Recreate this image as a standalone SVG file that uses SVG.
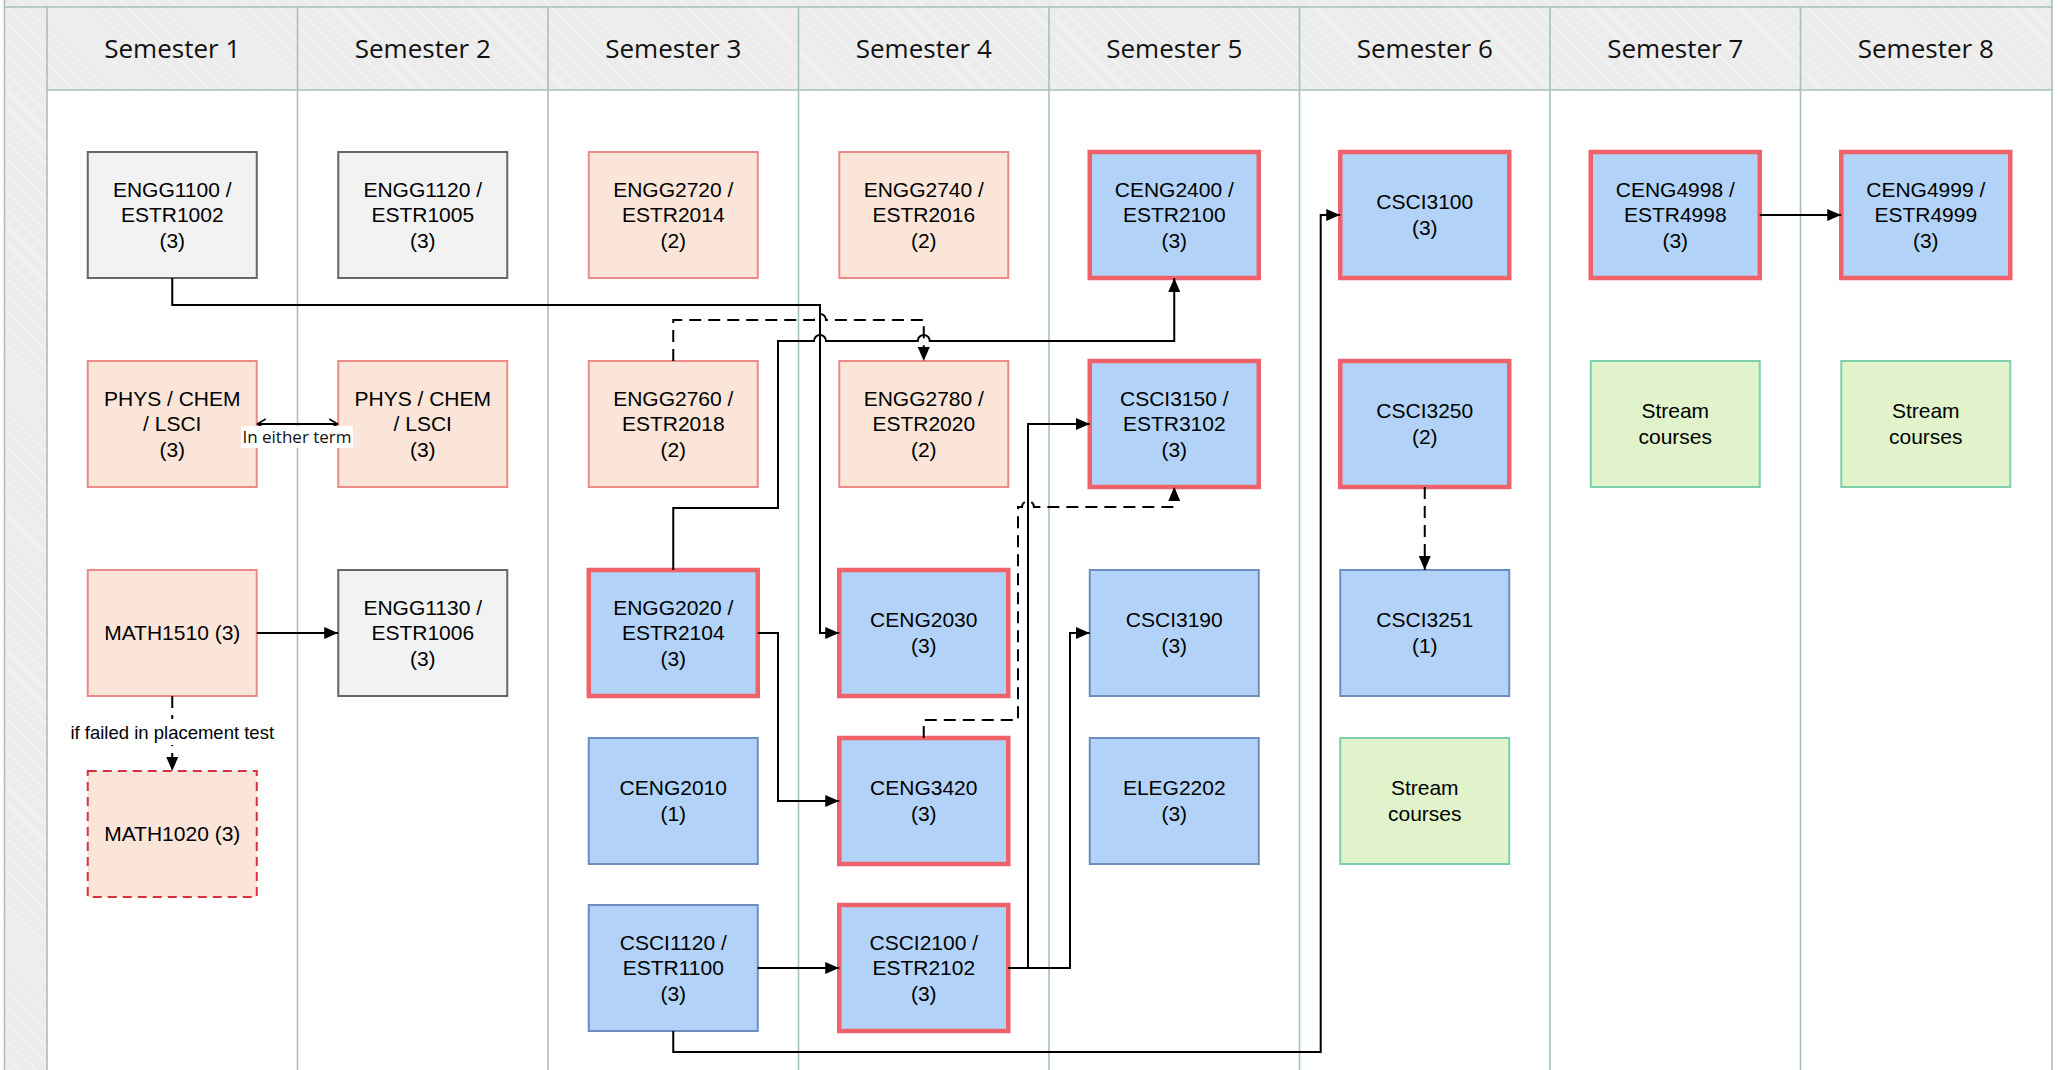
<svg xmlns="http://www.w3.org/2000/svg" width="2058" height="1070" viewBox="0 0 2058 1070">
<defs>
<pattern id="hatch" width="12" height="12" patternUnits="userSpaceOnUse" patternTransform="rotate(-45)">
<rect width="12" height="12" fill="#ececec"/>
<line x1="0" y1="0" x2="0" y2="12" stroke="#f4f4f4" stroke-width="3"/>
</pattern>
<marker id="arr" viewBox="0 0 14 12" refX="14" refY="6" markerWidth="14" markerHeight="12" markerUnits="userSpaceOnUse" orient="auto">
<path d="M0,0 L14,6 L0,12 z" fill="#000"/>
</marker>
<marker id="open" viewBox="0 0 10 12" refX="10" refY="6" markerWidth="10" markerHeight="12" markerUnits="userSpaceOnUse" orient="auto-start-reverse">
<path d="M1,1 L9.5,6 L1,11" fill="none" stroke="#000" stroke-width="1.6"/>
</marker>
</defs>
<style>
.lane{stroke:#a8c0b8;stroke-width:1.6;fill:none}
.hdr{font-family:"Open Sans","Noto Sans",sans-serif;font-size:26px;fill:#111;text-anchor:middle}
.t{font-family:"Liberation Sans",Arial,sans-serif;font-size:21px;fill:#000;text-anchor:middle}
.gray{fill:#f2f2f2;stroke:#666;stroke-width:2}
.peach{fill:#fae5d8;stroke:#ec8a88;stroke-width:2}
.peachd{fill:#fae5d8;stroke:#d8303c;stroke-width:2;stroke-dasharray:9 6}
.blue{fill:#b2d3f7;stroke:#6c8ebf;stroke-width:2}
.bluer{fill:#b2d3f7;stroke:#f0626a;stroke-width:4.5}
.green{fill:#e1f3cb;stroke:#7fcfac;stroke-width:2}
.c{fill:none;stroke:#000;stroke-width:2}
.d{fill:none;stroke:#000;stroke-width:2;stroke-dasharray:12 7}
.lbl{font-family:"Open Sans","Noto Sans",sans-serif;font-size:17px;fill:#111;text-anchor:middle}
.lbl2{font-family:"Liberation Sans",Arial,sans-serif;font-size:18.5px;fill:#000;text-anchor:middle}
</style>
<rect width="2058" height="1070" fill="#fff"/>
<g id="pool">
<rect x="4.5" y="0" width="2047.5" height="7" fill="url(#hatch)"/>
<rect x="4.5" y="7" width="42.5" height="1063" fill="url(#hatch)"/>
<rect x="47" y="7" width="2005" height="83" fill="url(#hatch)"/>
<line class="lane" x1="4.5" y1="0" x2="4.5" y2="1070"/>
<line class="lane" x1="2052" y1="0" x2="2052" y2="1070"/>
<line class="lane" x1="4.5" y1="7" x2="2052" y2="7"/>
<line class="lane" x1="47" y1="90" x2="2052" y2="90"/>
<line class="lane" x1="47" y1="7" x2="47" y2="1070"/>
<line class="lane" x1="297.5" y1="7" x2="297.5" y2="1070"/>
<line class="lane" x1="548" y1="7" x2="548" y2="1070"/>
<line class="lane" x1="798.5" y1="7" x2="798.5" y2="1070"/>
<line class="lane" x1="1049" y1="7" x2="1049" y2="1070"/>
<line class="lane" x1="1299.5" y1="7" x2="1299.5" y2="1070"/>
<line class="lane" x1="1550" y1="7" x2="1550" y2="1070"/>
<line class="lane" x1="1800.5" y1="7" x2="1800.5" y2="1070"/>
<text class="hdr" x="172.25" y="58">Semester 1</text>
<text class="hdr" x="422.75" y="58">Semester 2</text>
<text class="hdr" x="673.25" y="58">Semester 3</text>
<text class="hdr" x="923.75" y="58">Semester 4</text>
<text class="hdr" x="1174.25" y="58">Semester 5</text>
<text class="hdr" x="1424.75" y="58">Semester 6</text>
<text class="hdr" x="1675.25" y="58">Semester 7</text>
<text class="hdr" x="1925.75" y="58">Semester 8</text>
</g>
<g id="n-engg1100"><rect class="gray" x="87.75" y="152" width="169" height="126"/><text class="t" x="172.25" y="196.5">ENGG1100 /</text><text class="t" x="172.25" y="222">ESTR1002</text><text class="t" x="172.25" y="247.5">(3)</text></g>
<g id="n-phys1"><rect class="peach" x="87.75" y="361" width="169" height="126"/><text class="t" x="172.25" y="405.5">PHYS / CHEM</text><text class="t" x="172.25" y="431">/ LSCI</text><text class="t" x="172.25" y="456.5">(3)</text></g>
<g id="n-math1510"><rect class="peach" x="87.75" y="570" width="169" height="126"/><text class="t" x="172.25" y="640">MATH1510 (3)</text></g>
<g id="n-math1020"><rect class="peachd" x="87.75" y="771" width="169" height="126"/><text class="t" x="172.25" y="841">MATH1020 (3)</text></g>
<g id="n-engg1120"><rect class="gray" x="338.25" y="152" width="169" height="126"/><text class="t" x="422.75" y="196.5">ENGG1120 /</text><text class="t" x="422.75" y="222">ESTR1005</text><text class="t" x="422.75" y="247.5">(3)</text></g>
<g id="n-phys2"><rect class="peach" x="338.25" y="361" width="169" height="126"/><text class="t" x="422.75" y="405.5">PHYS / CHEM</text><text class="t" x="422.75" y="431">/ LSCI</text><text class="t" x="422.75" y="456.5">(3)</text></g>
<g id="n-engg1130"><rect class="gray" x="338.25" y="570" width="169" height="126"/><text class="t" x="422.75" y="614.5">ENGG1130 /</text><text class="t" x="422.75" y="640">ESTR1006</text><text class="t" x="422.75" y="665.5">(3)</text></g>
<g id="n-engg2720"><rect class="peach" x="588.75" y="152" width="169" height="126"/><text class="t" x="673.25" y="196.5">ENGG2720 /</text><text class="t" x="673.25" y="222">ESTR2014</text><text class="t" x="673.25" y="247.5">(2)</text></g>
<g id="n-engg2760"><rect class="peach" x="588.75" y="361" width="169" height="126"/><text class="t" x="673.25" y="405.5">ENGG2760 /</text><text class="t" x="673.25" y="431">ESTR2018</text><text class="t" x="673.25" y="456.5">(2)</text></g>
<g id="n-engg2020"><rect class="bluer" x="588.75" y="570" width="169" height="126"/><text class="t" x="673.25" y="614.5">ENGG2020 /</text><text class="t" x="673.25" y="640">ESTR2104</text><text class="t" x="673.25" y="665.5">(3)</text></g>
<g id="n-ceng2010"><rect class="blue" x="588.75" y="738" width="169" height="126"/><text class="t" x="673.25" y="795.25">CENG2010</text><text class="t" x="673.25" y="820.75">(1)</text></g>
<g id="n-csci1120"><rect class="blue" x="588.75" y="905" width="169" height="126"/><text class="t" x="673.25" y="949.5">CSCI1120 /</text><text class="t" x="673.25" y="975">ESTR1100</text><text class="t" x="673.25" y="1000.5">(3)</text></g>
<g id="n-engg2740"><rect class="peach" x="839.25" y="152" width="169" height="126"/><text class="t" x="923.75" y="196.5">ENGG2740 /</text><text class="t" x="923.75" y="222">ESTR2016</text><text class="t" x="923.75" y="247.5">(2)</text></g>
<g id="n-engg2780"><rect class="peach" x="839.25" y="361" width="169" height="126"/><text class="t" x="923.75" y="405.5">ENGG2780 /</text><text class="t" x="923.75" y="431">ESTR2020</text><text class="t" x="923.75" y="456.5">(2)</text></g>
<g id="n-ceng2030"><rect class="bluer" x="839.25" y="570" width="169" height="126"/><text class="t" x="923.75" y="627.25">CENG2030</text><text class="t" x="923.75" y="652.75">(3)</text></g>
<g id="n-ceng3420"><rect class="bluer" x="839.25" y="738" width="169" height="126"/><text class="t" x="923.75" y="795.25">CENG3420</text><text class="t" x="923.75" y="820.75">(3)</text></g>
<g id="n-csci2100"><rect class="bluer" x="839.25" y="905" width="169" height="126"/><text class="t" x="923.75" y="949.5">CSCI2100 /</text><text class="t" x="923.75" y="975">ESTR2102</text><text class="t" x="923.75" y="1000.5">(3)</text></g>
<g id="n-ceng2400"><rect class="bluer" x="1089.75" y="152" width="169" height="126"/><text class="t" x="1174.25" y="196.5">CENG2400 /</text><text class="t" x="1174.25" y="222">ESTR2100</text><text class="t" x="1174.25" y="247.5">(3)</text></g>
<g id="n-csci3150"><rect class="bluer" x="1089.75" y="361" width="169" height="126"/><text class="t" x="1174.25" y="405.5">CSCI3150 /</text><text class="t" x="1174.25" y="431">ESTR3102</text><text class="t" x="1174.25" y="456.5">(3)</text></g>
<g id="n-csci3190"><rect class="blue" x="1089.75" y="570" width="169" height="126"/><text class="t" x="1174.25" y="627.25">CSCI3190</text><text class="t" x="1174.25" y="652.75">(3)</text></g>
<g id="n-eleg2202"><rect class="blue" x="1089.75" y="738" width="169" height="126"/><text class="t" x="1174.25" y="795.25">ELEG2202</text><text class="t" x="1174.25" y="820.75">(3)</text></g>
<g id="n-csci3100"><rect class="bluer" x="1340.25" y="152" width="169" height="126"/><text class="t" x="1424.75" y="209.25">CSCI3100</text><text class="t" x="1424.75" y="234.75">(3)</text></g>
<g id="n-csci3250"><rect class="bluer" x="1340.25" y="361" width="169" height="126"/><text class="t" x="1424.75" y="418.25">CSCI3250</text><text class="t" x="1424.75" y="443.75">(2)</text></g>
<g id="n-csci3251"><rect class="blue" x="1340.25" y="570" width="169" height="126"/><text class="t" x="1424.75" y="627.25">CSCI3251</text><text class="t" x="1424.75" y="652.75">(1)</text></g>
<g id="n-stream6"><rect class="green" x="1340.25" y="738" width="169" height="126"/><text class="t" x="1424.75" y="795.25">Stream</text><text class="t" x="1424.75" y="820.75">courses</text></g>
<g id="n-ceng4998"><rect class="bluer" x="1590.75" y="152" width="169" height="126"/><text class="t" x="1675.25" y="196.5">CENG4998 /</text><text class="t" x="1675.25" y="222">ESTR4998</text><text class="t" x="1675.25" y="247.5">(3)</text></g>
<g id="n-stream7"><rect class="green" x="1590.75" y="361" width="169" height="126"/><text class="t" x="1675.25" y="418.25">Stream</text><text class="t" x="1675.25" y="443.75">courses</text></g>
<g id="n-ceng4999"><rect class="bluer" x="1841.25" y="152" width="169" height="126"/><text class="t" x="1925.75" y="196.5">CENG4999 /</text><text class="t" x="1925.75" y="222">ESTR4999</text><text class="t" x="1925.75" y="247.5">(3)</text></g>
<g id="n-stream8"><rect class="green" x="1841.25" y="361" width="169" height="126"/><text class="t" x="1925.75" y="418.25">Stream</text><text class="t" x="1925.75" y="443.75">courses</text></g>
<g id="connectors">
<path class="c" d="M256.75,424 H338.25" marker-start="url(#open)" marker-end="url(#open)"/>
<path class="c" d="M256.75,633 H338.25" marker-end="url(#arr)"/>
<path class="d" d="M172.25,696 V771" marker-end="url(#arr)"/>
<path class="c" d="M172.25,278 V305 H820 V633 H839.25" marker-end="url(#arr)"/>
<path class="d" d="M673.25,361 V320 H814 A6,6 0 0 1 826,320 H923.75 V361" marker-end="url(#arr)"/>
<path class="c" d="M673.25,570 V508 H778 V341 H814 A6,6 0 0 1 826,341 H917.75 A6,6 0 0 1 929.75,341 H1174.25 V278" marker-end="url(#arr)"/>
<path class="c" d="M757.75,633 H778 V801 H839.25" marker-end="url(#arr)"/>
<path class="c" d="M757.75,968 H839.25" marker-end="url(#arr)"/>
<path class="c" d="M1008.25,968 H1028 V424 H1089.75" marker-end="url(#arr)"/>
<path class="c" d="M1008.25,968 H1070 V633 H1089.75" marker-end="url(#arr)"/>
<path class="d" d="M923.75,738 V720 H1018 V507 H1022 A6,6 0 0 1 1034,507 H1174.25 V487" marker-end="url(#arr)"/>
<path class="c" d="M673.25,1031 V1052 H1320.7 V215 H1340.25" marker-end="url(#arr)"/>
<path class="c" d="M1759.75,215 H1841.25" marker-end="url(#arr)"/>
<path class="d" d="M1424.75,487 V570" marker-end="url(#arr)"/>
<rect x="241" y="426" width="112" height="22" fill="#fff"/>
<text class="lbl" x="297" y="443">In either term</text>
<rect x="69" y="719" width="206" height="26" fill="#fff"/>
<text class="lbl2" x="172.25" y="739">if failed in placement test</text>
</g>
</svg>
